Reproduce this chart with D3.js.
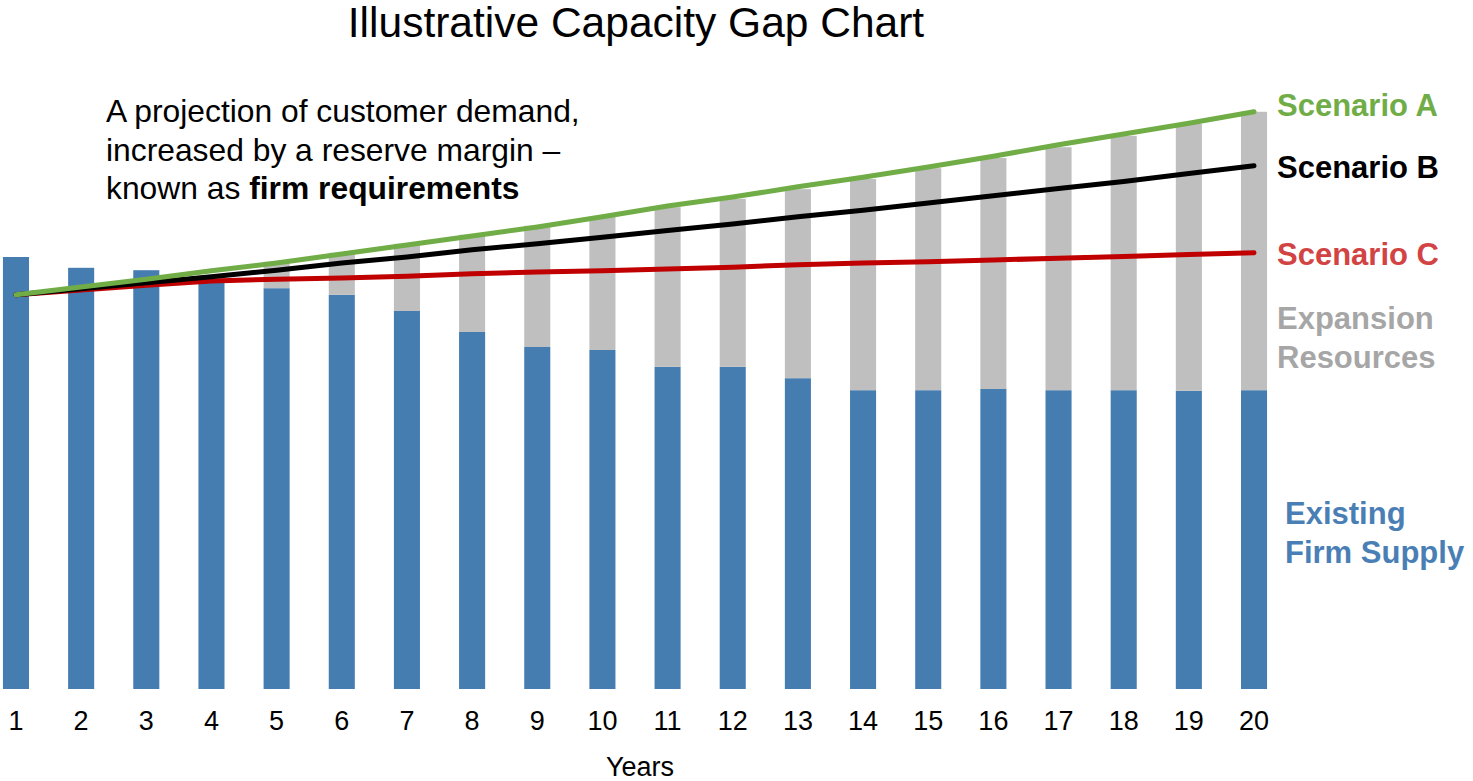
<!DOCTYPE html>
<html>
<head>
<meta charset="utf-8">
<script src="https://cdn.jsdelivr.net/npm/d3@7"></script>
<style>
  html, body { margin: 0; padding: 0; background: #fff; }
  svg { display: block; font-family: "Liberation Sans", Arial, sans-serif; }
</style>
</head>
<body>
<div id="chart"></div>
<script>
// Illustrative capacity gap chart
const years = d3.range(1, 21);

// existing firm supply (blue stack)
const existingSupply = [72.0, 70.2, 69.8, 67.7, 66.8, 65.7, 63.0, 59.5, 57.0, 56.5,
  53.7, 53.7, 51.8, 49.8, 49.8, 50.0, 49.8, 49.8, 49.7, 49.8];
// expansion resources (grey stack, on top of supply)
const expansion = [0, 0, 0, 0, 4.4, 7.0, 11.2, 16.2, 20.2, 22.2,
  26.6, 28.0, 31.5, 35.2, 37.0, 38.5, 40.5, 42.4, 44.5, 46.4];

// firm requirement scenarios
const scenarioA = [65.7, 67.0, 68.3, 69.7, 71.0, 72.5, 74.0, 75.5, 77.0, 78.7,
  80.5, 82.0, 83.7, 85.3, 87.0, 88.8, 90.7, 92.5, 94.3, 96.2];
const scenarioB = [65.7, 66.7, 67.7, 68.7, 69.8, 71.0, 72.0, 73.2, 74.2, 75.3,
  76.4, 77.5, 78.7, 79.8, 81.0, 82.2, 83.4, 84.6, 85.9, 87.2];
const scenarioC = [65.7, 66.5, 67.3, 68.0, 68.3, 68.5, 68.8, 69.2, 69.5, 69.7,
  70.0, 70.3, 70.7, 71.0, 71.2, 71.5, 71.8, 72.1, 72.4, 72.7];

const BLUE = '#467db1';
const GREY = '#bfbfbf';

const width = 1473, height = 781;

const svg = d3.select('#chart').append('svg')
  .attr('width', width)
  .attr('height', height);

const x = d3.scaleBand()
  .domain(years)
  .range([-16.6, 1286.6])
  .paddingInner(0.6)
  .paddingOuter(0.3);

const y = d3.scaleLinear()
  .domain([0, 100])
  .range([689, 89]);

// Title
svg.append('text')
  .attr('x', 636)
  .attr('y', 37)
  .attr('text-anchor', 'middle')
  .attr('font-size', '42.5px')
  .attr('fill', '#000')
  .text('Illustrative Capacity Gap Chart');

// Stacked bars
const rows = years.map((yr, i) => ({ year: yr, supply: existingSupply[i], expansion: expansion[i] }));
const stack = d3.stack().keys(['supply', 'expansion'])(rows);
const colors = { supply: BLUE, expansion: GREY };

svg.append('g')
  .selectAll('g')
  .data(stack)
  .join('g')
  .attr('fill', d => colors[d.key])
  .selectAll('rect')
  .data(d => d)
  .join('rect')
  .attr('x', d => x(d.data.year))
  .attr('width', x.bandwidth())
  .attr('y', d => y(d[1]))
  .attr('height', d => y(d[0]) - y(d[1]));

// Scenario lines
const line = d3.line()
  .x((d, i) => x(years[i]) + x.bandwidth() / 2)
  .y(d => y(d));

const scenarios = [
  { name: 'C', values: scenarioC, color: '#c00000' },
  { name: 'B', values: scenarioB, color: '#000000' },
  { name: 'A', values: scenarioA, color: '#70ad47' }
];

svg.append('g')
  .selectAll('path')
  .data(scenarios)
  .join('path')
  .attr('d', d => line(d.values))
  .attr('fill', 'none')
  .attr('stroke', d => d.color)
  .attr('stroke-width', 5)
  .attr('stroke-linecap', 'round')
  .attr('stroke-linejoin', 'round');

// X axis (labels only)
const xAxis = svg.append('g')
  .attr('transform', 'translate(0,703)')
  .call(d3.axisBottom(x).tickSize(0).tickPadding(8));
xAxis.select('.domain').remove();
xAxis.selectAll('text')
  .attr('font-size', '27px')
  .attr('font-family', '"Liberation Sans", Arial, sans-serif')
  .attr('fill', '#000');

svg.append('text')
  .attr('x', 640)
  .attr('y', 776)
  .attr('text-anchor', 'middle')
  .attr('font-size', '27px')
  .text('Years');

// Annotation
const note = svg.append('text')
  .attr('x', 106)
  .attr('y', 122)
  .attr('font-size', '31.8px')
  .attr('fill', '#000');
note.append('tspan').attr('x', 106).text('A projection of customer demand,');
note.append('tspan').attr('x', 106).attr('dy', 38.5).text('increased by a reserve margin \u2013');
const last = note.append('tspan').attr('x', 106).attr('dy', 38.5);
last.append('tspan').text('known as ');
last.append('tspan').attr('font-weight', 'bold').text('firm requirements');

// Right-hand labels
const labels = [
  { lines: ['Scenario A'], x: 1277, y: 116, color: '#70ad47' },
  { lines: ['Scenario B'], x: 1277, y: 178, color: '#000000' },
  { lines: ['Scenario C'], x: 1277, y: 265, color: '#d24343' },
  { lines: ['Expansion', 'Resources'], x: 1277, y: 329, color: '#a6a6a6' },
  { lines: ['Existing', 'Firm Supply'], x: 1285, y: 524, color: '#4a7fb5' }
];

labels.forEach(l => {
  const t = svg.append('text')
    .attr('x', l.x)
    .attr('y', l.y)
    .attr('font-size', '31px')
    .attr('font-weight', 'bold')
    .attr('fill', l.color);
  l.lines.forEach((s, i) => {
    t.append('tspan').attr('x', l.x).attr('dy', i === 0 ? 0 : 38.5).text(s);
  });
});
</script>
</body>
</html>
